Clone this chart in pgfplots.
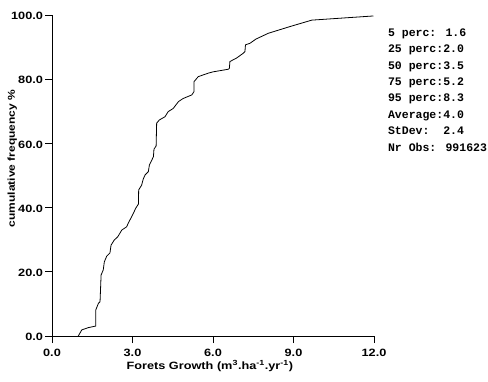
\documentclass[border=0pt]{standalone}
\usepackage{fontspec}
\usepackage{pgfplots}
\pgfplotsset{compat=1.18}
\setmainfont[FakeStretch=1.2]{Liberation Sans}
\newfontfamily\mono{Liberation Mono}
\newcommand\labfont{\fontsize{10.6bp}{12bp}\selectfont\bfseries}
\begin{document}
\begin{tikzpicture}
\begin{axis}[
  scale only axis,
  width=322bp, height=321bp,
  xmin=0, xmax=12, ymin=0, ymax=100,
  axis x line*=bottom, axis y line*=left,
  axis line style={line width=0.8pt},
  xtick={0,3,6,9,12}, ytick={0,20,40,60,80,100},
  tick align=outside, major tick length=7bp,
  tick style={line width=0.8pt, black},
  /pgf/number format/assume math mode=true,
  /pgf/number format/.cd, fixed, fixed zerofill, precision=1, /pgfplots/.cd,
  ticklabel style={font=\labfont},
  xticklabel style={yshift=-2.5bp},
  yticklabel style={xshift=1.5bp, yshift=-1bp},
  clip=false,
]
\addplot[black, line width=0.8pt] coordinates {
(0.98,0.0) (1.11,1.9) (1.35,2.6) (1.63,3.1) (1.63,8.1) (1.73,10.2) (1.79,10.7)
(1.83,19.0) (1.91,20.6) (1.95,23.1) (2.04,24.9) (2.16,25.9) (2.20,28.3)
(2.32,29.9) (2.45,30.9) (2.60,33.0) (2.78,34.0) (2.85,35.3) (2.94,36.7)
(3.03,38.2) (3.12,39.8) (3.22,41.1) (3.23,45.5) (3.34,47.0) (3.40,48.9)
(3.47,50.2) (3.59,51.2) (3.63,53.3) (3.72,54.8) (3.78,55.9) (3.80,58.2)
(3.88,59.2) (3.90,66.3) (4.00,67.3) (4.21,68.3) (4.33,69.9) (4.52,70.9)
(4.71,73.0) (4.89,74.0) (5.21,75.1) (5.29,76.1) (5.29,79.2) (5.45,80.8)
(5.83,81.9) (6.01,82.3) (6.57,83.1) (6.61,83.4) (6.63,85.5) (6.88,86.6)
(7.13,88.1) (7.19,88.6) (7.21,90.7) (7.38,91.2) (7.60,92.5) (8.06,94.3)
(8.87,96.4) (9.68,98.4) (11.98,99.7)
};
\path (rel axis cs:-0.1615,-0.1402) rectangle (rel axis cs:1.354,1.0467);
\node[anchor=base, font=\labfont] at (rel axis cs:0.49,-0.103)
  {Forets Growth (m\textsuperscript{3}.ha\textsuperscript{-1}.yr\textsuperscript{-1})};
\node[rotate=90, anchor=center, font=\fontsize{10bp}{12bp}\selectfont\bfseries] at (rel axis cs:-0.123,0.553)
  {cumulative frequency \%};
\begin{scope}[every node/.style={anchor=base west, inner sep=0pt, font=\mono\fontsize{11.5bp}{13bp}\selectfont\bfseries}]
\node at (rel axis cs:1.043,0.9336) {5 perc: 1.6};
\node at (rel axis cs:1.043,0.8825) {25 perc:2.0};
\node at (rel axis cs:1.043,0.8314) {50 perc:3.5};
\node at (rel axis cs:1.043,0.7803) {75 perc:5.2};
\node at (rel axis cs:1.043,0.7292) {95 perc:8.3};
\node at (rel axis cs:1.043,0.6781) {Average:4.0};
\node at (rel axis cs:1.043,0.6270) {StDev:\ \ 2.4};
\node at (rel axis cs:1.043,0.5759) {Nr Obs: 991623};
\end{scope}
\end{axis}
\end{tikzpicture}
\end{document}
